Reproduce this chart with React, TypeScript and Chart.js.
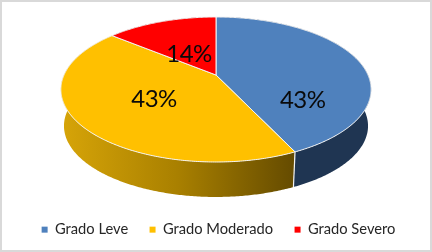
import React, { useEffect, useRef } from "react";
import { Chart, registerables } from "chart.js";

Chart.register(...registerables);

const categories = ["Grado Leve", "Grado Moderado", "Grado Severo"];
const seriesValues = [43, 43, 14];
const sliceColors = ["#4F81BD", "#FFC000", "#FF0000"];

// Perspective of the tilted disk
const CX = 216, CY = 75, A = 152, B = 69.6, K = -0.2;
const DEPTH = 36.7, BOTTOM_SCALE = 0.98;
const labelRadius = [0.6, 0.5, 0.45];
const labelShiftX = [0, 2, 0];
const labelShiftY = [34, 2, 5];

function project(angle: number, r: number, low = false) {
  const u = Math.cos(angle) * r;
  const v = Math.sin(angle) * r;
  const d = 1 + K * v;
  const s = low ? BOTTOM_SCALE : 1;
  return { x: CX + (s * A * u) / d, y: CY + (low ? DEPTH : 0) + (s * B * v) / d };
}

function rim(ctx: CanvasRenderingContext2D, a0: number, a1: number, low: boolean, first: boolean) {
  const n = Math.max(4, Math.ceil(Math.abs(a1 - a0) / 0.01));
  for (let i = 0; i <= n; i++) {
    const p = project(a0 + ((a1 - a0) * i) / n, 1, low);
    if (first && i === 0) ctx.moveTo(p.x, p.y);
    else ctx.lineTo(p.x, p.y);
  }
}

const pie3d = {
  id: "pie3d",
  beforeDraw(chart: any) {
    const { ctx, width, height } = chart;
    ctx.save();
    ctx.fillStyle = "#FFFFFF";
    ctx.fillRect(0, 0, width, height);
    ctx.strokeStyle = "#D9D9D9";
    ctx.lineWidth = 2;
    ctx.strokeRect(1, 1, width - 2, height - 2);
    ctx.restore();
  },
  beforeDatasetsDraw(chart: any) {
    const { ctx } = chart;
    const arcs = chart.getDatasetMeta(0).data;
    ctx.save();
    const gold = ctx.createLinearGradient(63, 0, 292, 0);
    gold.addColorStop(0, "#D6A408");
    gold.addColorStop(0.5, "#A98000");
    gold.addColorStop(1, "#664C00");
    const wallFill = ["#1F3552", gold, "#7F0000"];

    // Walls
    arcs.forEach((arc: any, i: number) => {
      ctx.beginPath();
      rim(ctx, arc.startAngle, arc.endAngle, false, true);
      rim(ctx, arc.endAngle, arc.startAngle, true, false);
      ctx.closePath();
      ctx.fillStyle = wallFill[i];
      ctx.fill();
    });
    // Seam between the walls of the first two slices
    const seamTop = project(arcs[0].endAngle, 1);
    const seamLow = project(arcs[0].endAngle, 1, true);
    ctx.beginPath();
    ctx.moveTo(seamTop.x, seamTop.y);
    ctx.lineTo(seamLow.x, seamLow.y);
    ctx.strokeStyle = "#F2F2F2";
    ctx.lineWidth = 1.2;
    ctx.stroke();

    // Top faces
    arcs.forEach((arc: any) => {
      const c = project(0, 0);
      ctx.beginPath();
      ctx.moveTo(c.x, c.y);
      rim(ctx, arc.startAngle, arc.endAngle, false, false);
      ctx.closePath();
      ctx.fillStyle = arc.options.backgroundColor;
      ctx.fill();
      ctx.strokeStyle = "#F4F4F4";
      ctx.lineWidth = 1;
      ctx.lineJoin = "round";
      ctx.stroke();
    });

    // Value labels
    ctx.fillStyle = "#0A0A0A";
    ctx.font = "24px Lato";
    (ctx as any).letterSpacing = "-0.5px";
    ctx.textAlign = "center";
    ctx.textBaseline = "middle";
    arcs.forEach((arc: any, i: number) => {
      const p = project((arc.startAngle + arc.endAngle) / 2, labelRadius[i]);
      ctx.fillText(`${seriesValues[i]}%`, p.x + labelShiftX[i], p.y + labelShiftY[i]);
    });
    ctx.restore();
    return false;
  },
};

export default function App() {
  const ref = useRef<HTMLCanvasElement>(null);
  useEffect(() => {
    if (!ref.current) return;
    const chart = new Chart(ref.current, {
      type: "pie",
      data: {
        labels: categories,
        datasets: [{ data: seriesValues, backgroundColor: sliceColors, borderWidth: 0 }],
      },
      options: {
        animation: false,
        responsive: false,
        devicePixelRatio: 1,
        layout: { padding: { left: 5, bottom: 5 } },
        plugins: {
          tooltip: { enabled: false },
          legend: {
            position: "bottom",
            labels: {
              boxWidth: 6,
              boxHeight: 6,
              padding: 21.4,
              color: "#262626",
              font: { family: "Lato", size: 14.7 },
            },
          },
        },
      },
      plugins: [pie3d],
    } as any);
    return () => chart.destroy();
  }, []);
  return (
    <canvas
      ref={ref}
      width={432}
      height={252}
      style={{ position: "fixed", left: 0, top: 0, width: 432, height: 252, filter: "blur(0.4px)" }}
    />
  );
}
